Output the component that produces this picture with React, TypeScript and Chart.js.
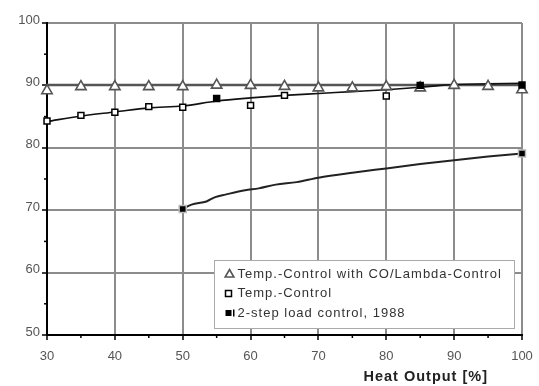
import React, { useEffect, useRef } from "react";
import { Chart, registerables } from "chart.js";
Chart.register(...registerables);

// ---- data ----
const triX = [30, 35, 40, 45, 50, 55, 60, 65, 70, 75, 80, 85, 90, 95, 100];
const triY = [89.15, 89.8, 89.8, 89.8, 89.8, 90.05, 90.0, 89.85, 89.6, 89.6, 89.8, 89.6, 90.0, 89.85, 89.3];

const flatX = [30, 100];
const flatY = [90.05, 90.05];

const tempMarkX = [30, 35, 40, 45, 50, 55, 60, 65, 80, 85, 100];
const tempMarkY = [84.3, 85.2, 85.7, 86.6, 86.5, 87.9, 86.8, 88.4, 88.3, 90.0, 90.05];
const tempMarkFilled = [false, false, false, false, false, true, false, false, false, true, true];

const tempCurveX = [30, 35, 40, 45, 50, 55, 60, 65, 70, 75, 80, 85, 88, 90, 95, 100];
const tempCurveY = [84.2, 85.1, 85.75, 86.4, 86.7, 87.5, 88.0, 88.4, 88.7, 89.0, 89.3, 89.7, 90.0, 90.15, 90.25, 90.35];

const stepX = [50, 51.3, 53.5, 54.8, 56.3, 59.2, 61.2, 63.7, 66.8, 70, 75, 80, 85, 90, 95, 100];
const stepY = [70.2, 70.9, 71.4, 72.1, 72.5, 73.2, 73.5, 74.1, 74.5, 75.2, 76.0, 76.7, 77.4, 78.0, 78.6, 79.1];
const stepMarkX = [50, 100];
const stepMarkY = [70.2, 79.1];

const xMin = 30, xMax = 100, xStep = 10, xMinorStep = 5;
const yMin = 50, yMax = 100, yStep = 10, yMinorStep = 5;

const legendLabels = [
  "Temp.-Control with CO/Lambda-Control",
  "Temp.-Control",
  "2-step load control, 1988",
];
const xTitle = "Heat Output [%]";

const pts = (xs: number[], ys: number[]) => xs.map((x, i) => ({ x, y: ys[i] }));

const FONT = "'Liberation Sans', Arial, sans-serif";
const GRID = "#8c8c8c";

function drawTri(ctx: CanvasRenderingContext2D, x: number, y: number, r: number) {
  ctx.beginPath();
  ctx.moveTo(x, y - r);
  ctx.lineTo(x + r * 0.87, y + r * 0.5);
  ctx.lineTo(x - r * 0.87, y + r * 0.5);
  ctx.closePath();
  ctx.fillStyle = "#fff";
  ctx.fill();
  ctx.lineWidth = 1.6;
  ctx.strokeStyle = "#555";
  ctx.stroke();
}

const extras = {
  id: "extras",
  afterDraw(chart: any) {
    const { ctx, chartArea: ca, scales } = chart;
    const xs = scales.x, ys = scales.y;
    ctx.save();
    // minor ticks
    ctx.strokeStyle = "#000";
    ctx.lineWidth = 1.5;
    for (let v = xMin + xMinorStep; v < xMax; v += xStep) {
      const px = xs.getPixelForValue(v);
      ctx.beginPath();
      ctx.moveTo(px, ca.bottom);
      ctx.lineTo(px, ca.bottom + 3);
      ctx.stroke();
    }
    for (let v = yMin + yMinorStep; v < yMax; v += yStep) {
      const py = ys.getPixelForValue(v);
      ctx.beginPath();
      ctx.moveTo(ca.left, py);
      ctx.lineTo(ca.left - 3, py);
      ctx.stroke();
    }
    // legend
    const bw = 300, bh = 68;
    const bx = Math.round(ca.right - 8 - bw) + 0.5;
    const by = Math.round(ca.bottom - 7 - bh) + 0.5;
    ctx.fillStyle = "#fff";
    ctx.fillRect(bx, by, bw, bh);
    ctx.strokeStyle = "#aaa";
    ctx.lineWidth = 1;
    ctx.strokeRect(bx, by, bw, bh);
    ctx.font = `13px ${FONT}`;
    (ctx as any).letterSpacing = "1px";
    ctx.textBaseline = "middle";
    ctx.textAlign = "left";
    const rows = [by + 13.5, by + 33, by + 52.5];
    const tx = bx + 23;
    // icons
    drawTri(ctx, bx + 15, rows[0] + 0.5, 5);
    ctx.fillStyle = "#fff";
    ctx.fillRect(bx + 11, rows[1] - 3, 6, 6);
    ctx.strokeStyle = "#000";
    ctx.lineWidth = 1.5;
    ctx.strokeRect(bx + 11, rows[1] - 3, 6, 6);
    ctx.fillStyle = "#000";
    ctx.fillRect(bx + 11, rows[2] - 3, 6, 6);
    ctx.fillRect(bx + 18.5, rows[2] - 3.5, 1.5, 7);
    ctx.fillStyle = "#333";
    legendLabels.forEach((l, i) => ctx.fillText(l, tx, rows[i]));
    // x axis title
    ctx.font = `bold 14.5px ${FONT}`;
    (ctx as any).letterSpacing = "1px";
    ctx.fillStyle = "#222";
    ctx.textAlign = "right";
    ctx.fillText(xTitle, ca.right - 34, 377);
    ctx.restore();
  },
};

export default function App() {
  const ref = useRef<HTMLCanvasElement>(null);
  useEffect(() => {
    const canvas = ref.current!;
    const chart = new Chart(canvas, {
      type: "scatter",
      data: {
        datasets: [
          {
            label: legendLabels[0],
            data: pts(triX, triY),
            showLine: false,
            pointStyle: "triangle",
            pointRadius: 6,
            pointBorderWidth: 1.6,
            pointBorderColor: "#555",
            pointBackgroundColor: "#fff",
            order: 1,
            clip: false,
          } as any,
          {
            label: legendLabels[1],
            data: pts(tempMarkX, tempMarkY),
            showLine: false,
            pointStyle: "rect",
            pointRadius: 4.2,
            pointBorderWidth: 1.5,
            pointBorderColor: "#000",
            pointBackgroundColor: tempMarkFilled.map((f) => (f ? "#000" : "#fff")),
            order: 0,
            clip: false,
          } as any,
          {
            label: legendLabels[2],
            data: pts(stepMarkX, stepMarkY),
            showLine: false,
            pointStyle: "rect",
            pointRadius: 5,
            pointBorderWidth: 1.5,
            pointBorderColor: "#bbb",
            pointBackgroundColor: "#000",
            order: 0,
            clip: false,
          } as any,
          {
            label: "flat",
            data: pts(flatX, flatY),
            showLine: true,
            borderColor: "#555",
            borderWidth: 2.5,
            pointRadius: 0,
            order: 4,
            clip: false,
          } as any,
          {
            label: "tempCurve",
            data: pts(tempCurveX, tempCurveY),
            showLine: true,
            borderColor: "#111",
            borderWidth: 1.6,
            cubicInterpolationMode: "monotone",
            pointRadius: 0,
            order: 3,
            clip: false,
          } as any,
          {
            label: "stepCurve",
            data: pts(stepX, stepY),
            showLine: true,
            borderColor: "#222",
            borderWidth: 2,
            cubicInterpolationMode: "monotone",
            pointRadius: 0,
            order: 3,
            clip: false,
          } as any,
        ],
      },
      options: {
        animation: false,
        responsive: false,
        events: [],
        layout: { padding: { top: 23, right: 17, left: 0, bottom: 0 } },
        plugins: { legend: { display: false }, tooltip: { enabled: false } },
        scales: {
          x: {
            type: "linear",
            min: xMin,
            max: xMax,
            afterFit: (s: any) => {
              s.height = 51;
              s.paddingLeft = 0;
              s.paddingRight = 0;
            },
            ticks: {
              stepSize: xStep,
              color: "#555",
              font: { family: FONT, size: 13 },
              padding: 8.5,
              maxRotation: 0,
            },
            grid: { color: GRID, lineWidth: 2, tickColor: "#000", tickLength: 5, tickWidth: 1.5 },
            border: { color: "#000", width: 2 },
          },
          y: {
            type: "linear",
            min: yMin,
            max: yMax,
            afterFit: (s: any) => {
              s.width = 47;
              s.paddingTop = 0;
              s.paddingBottom = 0;
            },
            ticks: {
              stepSize: yStep,
              color: "#555",
              font: { family: FONT, size: 13 },
              padding: 2,
              labelOffset: -3,
            },
            grid: { color: GRID, lineWidth: 2, tickColor: "#000", tickLength: 5, tickWidth: 1.5 },
            border: { color: "#000", width: 2 },
          },
        },
      } as any,
      plugins: [extras],
    });
    return () => chart.destroy();
  }, []);
  return (
    <div style={{ position: "fixed", left: 0, top: 0, width: 539, height: 386, background: "#fff" }}>
      <canvas ref={ref} width={539} height={386} />
    </div>
  );
}
